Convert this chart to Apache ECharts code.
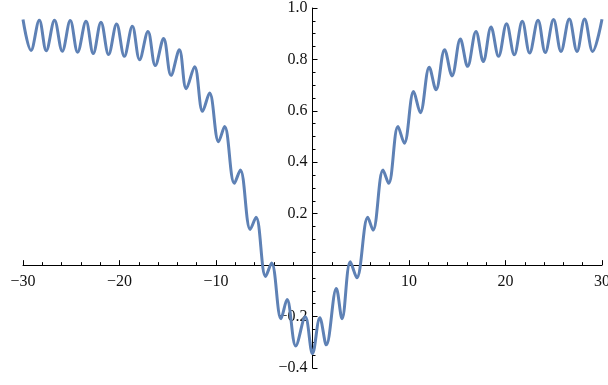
<!DOCTYPE html>
<html>
<head>
<meta charset="utf-8">
<script src="https://cdn.jsdelivr.net/npm/echarts@6/dist/echarts.min.js"></script>
<style>
  html, body { margin: 0; padding: 0; background: #fff; }
  #chart { width: 608px; height: 385px; }
</style>
</head>
<body>
<div id="chart"></div>
<script>
// curve: peaks and troughs, left to right
const xVals = [-30.0, -29.17, -28.31, -27.59, -26.73, -25.93, -25.10, -24.34, -23.47, -22.72,
    -21.92, -21.13, -20.30, -19.50, -18.67, -17.92, -17.05, -16.29, -15.43, -14.66,
    -13.80, -13.08, -12.22, -11.39, -10.67, -9.73, -9.11, -8.10, -7.48, -6.45,
    -5.85, -4.86, -4.24, -3.26, -2.64, -1.73, -0.75, 0.0,
    0.76, 1.43, 2.47, 3.06, 3.92, 4.59, 5.73, 6.27, 7.31, 7.89,
    8.86, 9.51, 10.48, 11.17, 12.10, 12.80, 13.69, 14.46, 15.32, 16.07,
    16.94, 17.70, 18.50, 19.28, 20.11, 20.91, 21.74, 22.50, 23.37, 24.12,
    24.98, 25.75, 26.61, 27.41, 28.20, 29.03, 30.0];
const yVals = [0.955, 0.835, 0.952, 0.834, 0.952, 0.832, 0.951, 0.828, 0.948, 0.823,
    0.945, 0.819, 0.938, 0.812, 0.929, 0.799, 0.909, 0.776, 0.881, 0.738,
    0.838, 0.686, 0.772, 0.598, 0.669, 0.480, 0.539, 0.318, 0.370, 0.139,
    0.186, -0.044, 0.008, -0.208, -0.134, -0.314, -0.201, -0.344,
    -0.205, -0.310, -0.091, -0.208, 0.013, -0.049, 0.186, 0.136, 0.370, 0.318,
    0.539, 0.474, 0.675, 0.593, 0.770, 0.682, 0.838, 0.736, 0.879, 0.773,
    0.909, 0.792, 0.926, 0.812, 0.939, 0.818, 0.948, 0.825, 0.952, 0.827,
    0.955, 0.831, 0.957, 0.831, 0.957, 0.831, 0.956];

const xTicks = {min: -30, max: 30, step: 10};
const yTicks = {min: -0.4, max: 1.0, step: 0.2};

function minusLabel(v, digits) {
    if (Math.abs(v) < 1e-9) return '';
    let s = Math.abs(v).toFixed(digits);
    return (v < 0 ? '\u2212' : '') + s;
}

let points = xVals.map((x, i) => [x, yVals[i]]);

// grid box; axes are shifted onto the zero lines with offset
const W = 608, H = 385;
const gLeft = 23, gRight = 6, gTop = 8, gBottom = 17;
let gW = W - gLeft - gRight, gH = H - gTop - gBottom;
let yAxisOffset = -gW * (0 - xTicks.min) / (xTicks.max - xTicks.min);
let xAxisOffset = -gH * (0 - yTicks.min) / (yTicks.max - yTicks.min);

let axisFont = {
    color: '#111',
    fontFamily: 'Liberation Serif',
    fontSize: 16
};

let option = {
    animation: false,
    grid: {left: gLeft, right: gRight, top: gTop, bottom: gBottom, containLabel: false, outerBoundsMode: 'none'},
    xAxis: {
        type: 'value',
        position: 'bottom',
        offset: xAxisOffset,
        min: xTicks.min,
        max: xTicks.max,
        interval: xTicks.step,
        axisLine: {onZero: false, lineStyle: {color: '#000', width: 1}},
        axisTick: {inside: true, length: 5, lineStyle: {color: '#000'}},
        minorTick: {show: true, splitNumber: 5, length: 3, lineStyle: {color: '#000'}},
        splitLine: {show: false},
        axisLabel: Object.assign({margin: 9, formatter: v => minusLabel(v, 0)}, axisFont)
    },
    yAxis: {
        type: 'value',
        position: 'left',
        offset: yAxisOffset,
        min: yTicks.min,
        max: yTicks.max,
        interval: yTicks.step,
        axisLine: {onZero: false, lineStyle: {color: '#000', width: 1}},
        axisTick: {inside: true, length: 5, lineStyle: {color: '#000'}},
        minorTick: {show: true, splitNumber: 4, length: 3, lineStyle: {color: '#000'}},
        splitLine: {show: false},
        axisLabel: Object.assign({margin: 5, formatter: v => minusLabel(v, 1)}, axisFont)
    },
    series: [{
        type: 'line',
        data: points,
        symbol: 'none',
        smooth: 0.36,
        clip: false,
        lineStyle: {color: '#5E81B5', width: 3}
    }]
};

let chart = echarts.init(document.getElementById('chart'));
chart.setOption(option);
</script>
</body>
</html>
